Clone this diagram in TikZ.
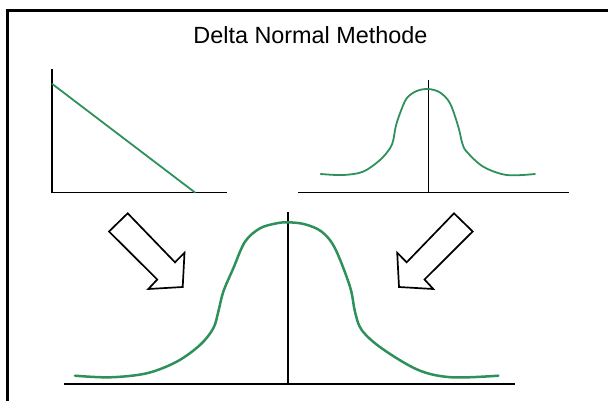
\documentclass[tikz,border=0pt]{standalone}
\usepackage{fontspec}
\setmainfont{Liberation Sans}
\definecolor{curvegreen}{RGB}{46,145,92}
\begin{document}
\begin{tikzpicture}[x=1pt,y=-1pt,
  axis/.style={black,line width=1.9pt},
  curve/.style={curvegreen,line width=1.8pt,line join=round,line cap=round},
  bigcurve/.style={curvegreen,line width=2.5pt,line join=round,line cap=round},
  blockarrow/.style={black,line width=1.7pt,fill=white,line join=miter}]
\useasboundingbox (0,0) rectangle (608,400);
\clip (0,0) rectangle (608,400);
% frame
\draw[black,line width=2.4pt] (7.3,410) -- (7.3,10.3) -- (620,10.3);
% title
\node[inner sep=0pt,anchor=base,font=\fontsize{23.4}{27}\selectfont] (title) at (310.5,43.5) {Delta Normal Methode};
% top-left graph
\coordinate (tlo) at (52.3,192.5);
\coordinate (tly) at (52.3,69);
\coordinate (tlx) at (227,192.5);
\draw[axis] (tly) -- (tlo) -- (tlx);
\coordinate (la) at (52.3,84);
\coordinate (lb) at (195,192.5);
\draw[curve] (la) -- (lb);
% top-right graph
\coordinate (trl) at (298,192.5);
\coordinate (trr) at (569,192.5);
\coordinate (trb) at (428.5,192.5);
\coordinate (trt) at (428.5,80);
\draw[axis] (trl) -- (trr);
\draw[axis] (trb) -- (trt);
\draw[curve] plot[smooth,tension=0.55] coordinates {
 (320.7,174) (343,175) (363,171.7) (380,160) (390,148.3) (393.3,140) (395.7,126.7)
 (400,113.3) (406.7,98.3) (416.7,91) (428.3,89) (440,92.5) (450,103.3) (458.3,126.7)
 (462.3,143.3) (466.7,151.7) (483.3,166.7) (506.7,175) (535,174)};
% bottom graph
\coordinate (bl) at (64,384.3);
\coordinate (br) at (515,384.3);
\coordinate (bb) at (288.3,384.3);
\coordinate (bt) at (288.3,212);
\draw[axis] (bl) -- (br);
\draw[axis] (bb) -- (bt);
\draw[bigcurve] plot[smooth,tension=0.55] coordinates {
 (75,375.7) (110,377.3) (146.7,373.3) (176.7,361.7) (200,345) (213.3,328.3) (218.3,311.7)
 (223.3,291.7) (233.3,268.3) (245,241.7) (260,228.3) (276.7,223.3) (288.3,222.3)
 (305,224.3) (321.7,231.7) (335,248.3) (350,286.7) (355,311.7) (361.7,330) (381.7,348.3)
 (418.3,370) (451.7,377.3) (498.3,375.7)};
% block arrows
\draw[blockarrow] (109,231.5) -- (127.7,213.3) -- (175,262.3) -- (184.5,252.7) -- (182.7,287)
  -- (148.3,289) -- (157.3,279.5) -- cycle;
\draw[blockarrow] (472.7,231.5) -- (454,213.3) -- (406.7,262.3) -- (397.2,252.7) -- (399,287)
  -- (433.3,289) -- (424.5,279.5) -- cycle;
\end{tikzpicture}
\end{document}
